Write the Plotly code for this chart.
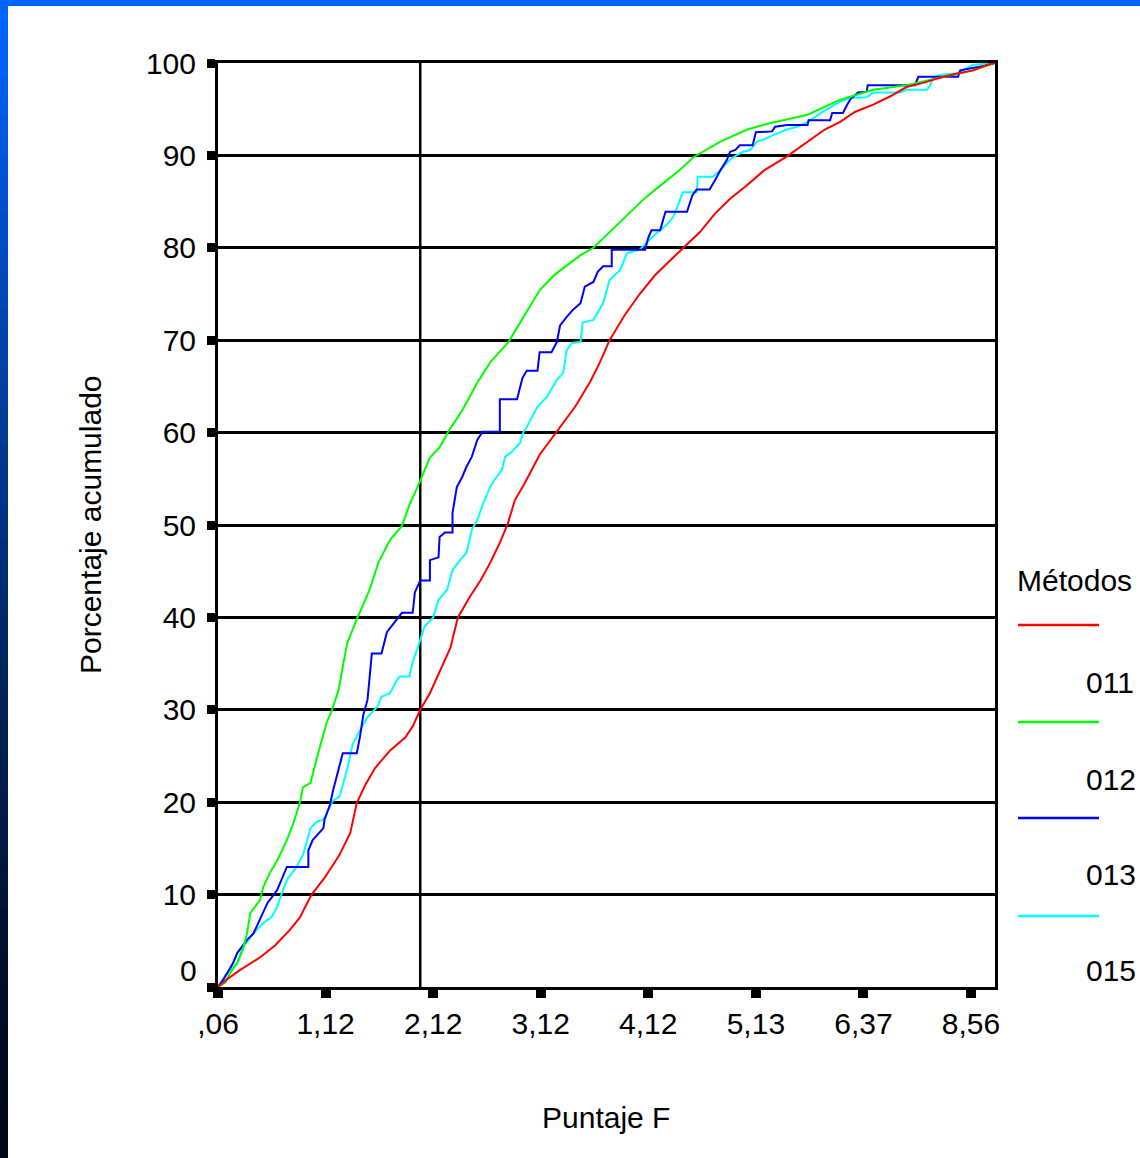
import plotly.graph_objects as go

# ---------------- data (x = position on the ordinal Puntaje F axis, y = cumulative %) ----------------
x_ticktext = [",06", "1,12", "2,12", "3,12", "4,12", "5,13", "6,37", "8,56"]
x_tickvals = [0, 1, 2, 3, 4, 5, 6, 7]
y_tickvals = [0, 10, 20, 30, 40, 50, 60, 70, 80, 90, 100]
ref_x = 1.88

methods = ["011", "012", "013", "015"]
colors = ["#ff0000", "#00ff00", "#0000ff", "#00ffff"]

x_011 = [0, 0.08, 0.20, 0.39, 0.53, 0.67, 0.76, 0.87, 0.99, 1.13, 1.23, 1.29, 1.37, 1.46, 1.60, 1.74, 1.81,
         1.88, 1.97, 2.06, 2.16, 2.23, 2.34, 2.44, 2.53, 2.62, 2.69, 2.76, 2.85, 2.99, 3.15, 3.32, 3.46,
         3.55, 3.64, 3.78, 3.92, 4.06, 4.20, 4.34, 4.48, 4.62, 4.76, 4.90, 5.08, 5.29, 5.48, 5.64, 5.78,
         5.92, 6.09, 6.25, 6.40, 6.57, 6.71, 6.85, 7.02, 7.13, 7.22]
y_011 = [0, 0.8, 1.8, 3.2, 4.5, 6.2, 7.5, 10.0, 11.8, 14.3, 16.7, 19.9, 21.9, 23.7, 25.6, 27.0, 28.2,
         30.0, 31.8, 34.1, 36.7, 40.0, 42.2, 44.0, 45.9, 48.1, 50.0, 52.7, 54.5, 57.6, 60.1, 62.8, 65.5,
         67.6, 70.0, 72.7, 75.0, 77.0, 78.6, 80.1, 81.7, 83.7, 85.3, 86.6, 88.4, 89.9, 91.5, 92.8, 93.6,
         94.7, 95.5, 96.4, 97.4, 97.9, 98.4, 98.8, 99.2, 99.7, 100]

x_012 = [0, 0.07, 0.11, 0.18, 0.23, 0.27, 0.30, 0.39, 0.42, 0.48, 0.55, 0.64, 0.70, 0.76, 0.79, 0.86, 0.92,
         1.01, 1.06, 1.12, 1.20, 1.29, 1.41, 1.49, 1.60, 1.71, 1.78, 1.85, 1.97, 2.06, 2.14, 2.27, 2.41,
         2.53, 2.70, 2.85, 2.99, 3.13, 3.24, 3.37, 3.49, 3.64, 3.83, 3.97, 4.14, 4.29, 4.42, 4.67, 4.92,
         5.10, 5.48, 5.78, 6.09, 6.40, 6.71, 7.02, 7.22]
y_012 = [0, 0.5, 1.5, 2.6, 4.0, 5.8, 8.0, 9.4, 10.8, 12.3, 13.7, 15.9, 17.7, 19.9, 21.6, 22.1, 24.8,
         28.6, 30.0, 32.1, 37.2, 39.8, 43.0, 45.9, 48.4, 49.9, 52.2, 54.0, 57.3, 58.4, 60.1, 62.4, 65.4,
         67.6, 69.8, 72.7, 75.4, 77.1, 78.1, 79.2, 80.0, 81.7, 83.8, 85.4, 87.0, 88.4, 89.8, 91.5, 92.8,
         93.4, 94.4, 96.0, 97.1, 97.6, 98.4, 99.2, 100]

x_013 = [0, 0.05, 0.09, 0.14, 0.18, 0.23, 0.27, 0.33, 0.39, 0.42, 0.46, 0.50, 0.55, 0.59, 0.64, 0.84, 0.84,
         0.88, 0.93, 0.98, 0.99, 1.04, 1.07, 1.11, 1.16, 1.29, 1.32, 1.35, 1.39, 1.43, 1.52, 1.57, 1.66,
         1.71, 1.81, 1.83, 1.88, 1.97, 1.97, 2.05, 2.06, 2.11, 2.18, 2.18, 2.22, 2.27, 2.31, 2.36, 2.41,
         2.46, 2.62, 2.62, 2.78, 2.83, 2.87, 2.97, 2.99, 3.10, 3.15, 3.18, 3.24, 3.30, 3.37, 3.41, 3.49,
         3.53, 3.58, 3.66, 3.66, 3.97, 4.00, 4.03, 4.11, 4.16, 4.36, 4.41, 4.45, 4.57, 4.62, 4.67, 4.73,
         4.76, 4.81, 4.85, 4.97, 5.00, 5.15, 5.18, 5.29, 5.48, 5.49, 5.69, 5.71, 5.81, 5.85, 5.88, 5.95,
         6.03, 6.04, 6.48, 6.51, 6.88, 6.90, 7.04, 7.13, 7.22]
y_013 = [0, 0.8, 1.6, 2.6, 3.7, 4.5, 5.1, 5.8, 7.3, 8.0, 9.1, 9.7, 10.5, 11.6, 13.0, 13.0, 14.8,
         15.9, 16.5, 17.2, 18.1, 19.7, 21.3, 23.2, 25.3, 25.3, 27.1, 29.4, 31.1, 36.1, 36.1, 38.4, 39.8,
         40.5, 40.5, 42.7, 44.0, 44.0, 46.2, 46.5, 48.7, 49.2, 49.2, 51.3, 54.1, 55.2, 56.3, 57.4, 59.2,
         60.1, 60.1, 63.6, 63.6, 65.9, 66.7, 66.7, 68.7, 68.7, 69.8, 71.6, 72.5, 73.3, 74.0, 75.8, 76.3,
         77.4, 78.0, 78.0, 79.8, 79.8, 81.1, 81.9, 81.9, 83.9, 83.9, 85.7, 86.3, 86.3, 87.3, 88.4, 89.5,
         90.4, 90.6, 91.1, 91.1, 92.5, 92.6, 93.1, 93.3, 93.3, 93.8, 93.8, 94.6, 94.6, 95.5, 96.1, 96.8,
         96.9, 97.6, 97.6, 98.5, 98.5, 99.2, 99.5, 99.7, 100]

x_015 = [0, 0.04, 0.08, 0.18, 0.23, 0.33, 0.42, 0.50, 0.55, 0.58, 0.64, 0.73, 0.79, 0.83, 0.86, 0.92, 0.98,
         1.01, 1.07, 1.13, 1.20, 1.25, 1.32, 1.39, 1.48, 1.52, 1.60, 1.66, 1.69, 1.78, 1.81, 1.85, 1.88,
         1.92, 2.00, 2.05, 2.13, 2.18, 2.25, 2.31, 2.36, 2.41, 2.46, 2.53, 2.57, 2.64, 2.67, 2.73, 2.81,
         2.84, 2.87, 2.97, 3.06, 3.15, 3.21, 3.24, 3.29, 3.37, 3.39, 3.49, 3.58, 3.64, 3.74, 3.80, 3.92,
         4.04, 4.11, 4.17, 4.23, 4.27, 4.32, 4.45, 4.46, 4.60, 4.67, 4.73, 4.79, 4.88, 4.95, 5.01, 5.07,
         5.16, 5.29, 5.38, 5.48, 5.62, 5.78, 5.88, 6.03, 6.09, 6.34, 6.40, 6.59, 6.62, 6.65, 6.71, 6.87,
         7.02, 7.22]
y_015 = [0, 0.8, 1.5, 2.6, 4.3, 5.8, 6.9, 7.6, 8.7, 9.7, 11.6, 13.0, 14.3, 15.9, 17.2, 17.9, 18.1,
         18.8, 20.2, 20.6, 23.5, 26.2, 27.8, 29.2, 30.3, 31.4, 31.8, 33.2, 33.6, 33.6, 35.2, 36.5, 37.6,
         39.0, 40.0, 41.9, 43.0, 45.1, 46.2, 47.0, 49.5, 50.5, 52.2, 54.1, 54.9, 56.0, 57.4, 57.9, 58.9,
         60.1, 60.6, 62.8, 63.9, 65.7, 66.5, 68.9, 69.7, 69.8, 71.9, 72.2, 74.0, 76.5, 77.6, 79.4, 79.8,
         81.2, 81.9, 82.5, 83.3, 84.4, 86.0, 86.0, 87.7, 87.7, 88.4, 89.2, 89.8, 90.4, 90.6, 91.5, 91.7,
         92.2, 92.8, 93.1, 93.6, 94.7, 95.8, 96.2, 96.3, 96.8, 96.8, 97.1, 97.1, 97.6, 98.4, 98.7, 98.9,
         99.8, 100]

series_x = [x_011, x_012, x_013, x_015]
series_y = [y_011, y_012, y_013, y_015]

# ---------------- layout geometry ----------------
W, H = 1140, 1158
L, R, T, B = 218, 145, 63, 171
PW, PH = W - L - R, H - T - B
FONT = "Liberation Sans, Arial, sans-serif"


def pxx(px):
    return (px - L) / PW


def pxy(py):
    return (H - B - py) / PH


fig = go.Figure()

# draw so that red (011) ends on top
for i in [3, 2, 1, 0]:
    fig.add_trace(go.Scatter(
        x=series_x[i], y=series_y[i], mode="lines", name=methods[i],
        line=dict(color=colors[i], width=2), showlegend=False, hoverinfo="skip"))

shapes = []
# reference vertical line
shapes.append(dict(type="line", xref="x", yref="paper", x0=ref_x, x1=ref_x, y0=0, y1=1,
                   line=dict(color="black", width=2.5), layer="below"))

# blue frame: top bar and left gradient bar
shapes.append(dict(type="rect", xref="paper", yref="paper", x0=pxx(0), x1=pxx(W),
                   y0=pxy(6), y1=pxy(0), fillcolor="#0066ff", line=dict(width=0)))
n_seg = 60
for k in range(n_seg):
    t = k / (n_seg - 1)
    g = int(round(102 * (1 - t) ** 1.3 + 8 * t))
    b = int(round(255 * (1 - t) ** 1.3 + 25 * t))
    y_top = H * k / n_seg
    y_bot = H * (k + 1) / n_seg + 1
    shapes.append(dict(type="rect", xref="paper", yref="paper", x0=pxx(0), x1=pxx(8),
                       y0=pxy(min(y_bot, H)), y1=pxy(y_top),
                       fillcolor=f"rgb(0,{g},{b})", line=dict(width=0)))

annotations = []
# legend (title, line sample above each label)
annotations.append(dict(text="Métodos", xref="paper", yref="paper", x=pxx(1015), y=pxy(580),
                        xanchor="left", yanchor="middle", showarrow=False,
                        font=dict(family=FONT, size=30, color="black")))
line_y = [625, 722, 818, 916]
label_y = [682, 779, 874, 970]
for i, m in enumerate(methods):
    shapes.append(dict(type="line", xref="paper", yref="paper", x0=pxx(1018), x1=pxx(1099),
                       y0=pxy(line_y[i]), y1=pxy(line_y[i]),
                       line=dict(color=colors[i], width=2.5)))
    annotations.append(dict(text=m, xref="paper", yref="paper", x=pxx(1084), y=pxy(label_y[i]),
                            xanchor="left", yanchor="middle", showarrow=False,
                            font=dict(family=FONT, size=30, color="black")))

# axis titles
annotations.append(dict(text="Porcentaje acumulado", xref="paper", yref="paper", x=pxx(90), y=0.5,
                        textangle=-90, xanchor="center", yanchor="middle", showarrow=False,
                        font=dict(family=FONT, size=30, color="black")))
annotations.append(dict(text="Puntaje F", xref="paper", yref="paper", x=pxx(606), y=pxy(1117),
                        xanchor="center", yanchor="middle", showarrow=False,
                        font=dict(family=FONT, size=30, color="black")))
# the "0" label sits slightly above its tick
annotations.append(dict(text="0", xref="paper", yref="y", x=pxx(199), y=0, yshift=17,
                        xanchor="right", yanchor="middle", showarrow=False,
                        font=dict(family=FONT, size=30, color="black")))

y_ticktext = ["" if v == 0 else str(v) for v in y_tickvals]

fig.update_layout(
    width=W, height=H,
    margin=dict(l=L, r=R, t=T, b=B, pad=0),
    paper_bgcolor="white", plot_bgcolor="white",
    font=dict(family=FONT, size=30, color="black"),
    showlegend=False,
    shapes=shapes, annotations=annotations,
    xaxis=dict(range=[0, 7.223], tickvals=x_tickvals, ticktext=x_ticktext,
               showgrid=False, zeroline=False, showline=True, linecolor="black", linewidth=3,
               mirror=True, ticks="outside", ticklen=8, tickwidth=10, tickcolor="black",
               ticklabelstandoff=0, tickfont=dict(size=30)),
    yaxis=dict(range=[0, 100], tickvals=y_tickvals, ticktext=y_ticktext,
               showgrid=True, gridcolor="black", gridwidth=2.5, zeroline=False,
               showline=True, linecolor="black", linewidth=3, mirror=True,
               ticks="outside", ticklen=8, tickwidth=9, tickcolor="black",
               ticklabelstandoff=5, tickfont=dict(size=30)),
)

fig.write_html("out.html")
